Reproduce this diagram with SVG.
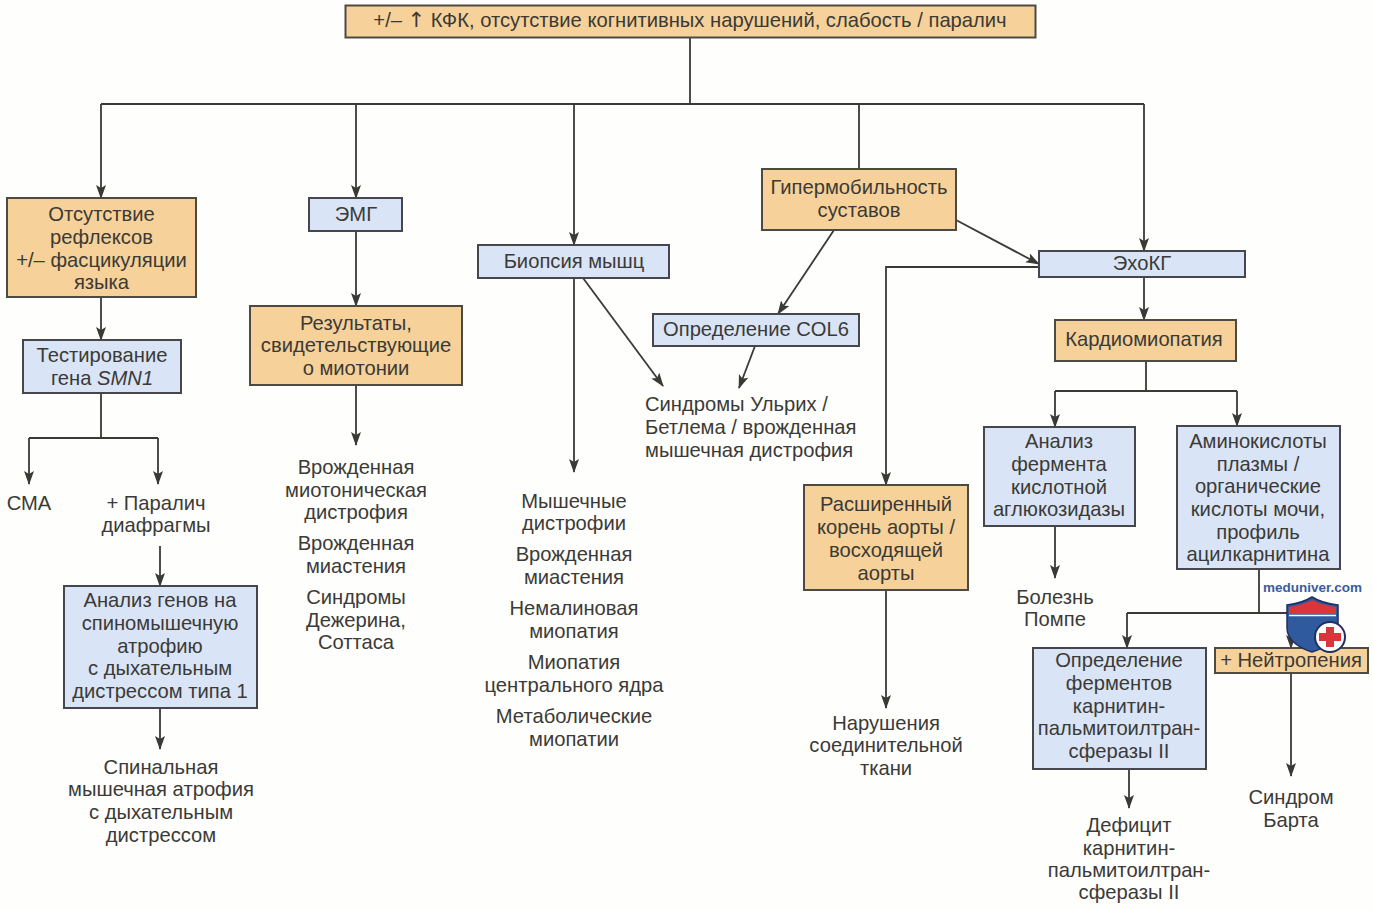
<svg xmlns="http://www.w3.org/2000/svg" width="1373" height="910" viewBox="0 0 1373 910">
<style>
text{font-family:"Liberation Sans",Arial,sans-serif;font-size:20.2px;fill:#3b3a36;text-anchor:middle}
.o{fill:#f6d199;stroke:#4d4a42;stroke-width:2}
.b{fill:#d9e4f6;stroke:#45474c;stroke-width:2}
.c{fill:none;stroke:#3a3935;stroke-width:1.8}
.a{marker-end:url(#ah)}
.l{text-anchor:start}
</style>
<defs>
<marker id="ah" viewBox="0 0 14 10" refX="13" refY="5" markerWidth="14" markerHeight="10" markerUnits="userSpaceOnUse" orient="auto">
<path d="M0 0L14 5L0 10L3 5Z" fill="#3a3935"/>
</marker>
</defs>
<rect width="1373" height="910" fill="#fefefd"/>
<g id="connectors">
<path class="c" d="M690 37V104M101 104H1144M859 104V169"/>
<path class="c a" d="M101 104V198"/>
<path class="c a" d="M356 104V198"/>
<path class="c a" d="M574 104V245"/>
<path class="c a" d="M1144 104V251"/>
<path class="c a" d="M956 220L1039 264"/>
<path class="c a" d="M834 230L778 314"/>
<path class="c a" d="M1039 267H886V485"/>
<path class="c a" d="M1144 277V320"/>
<path class="c" d="M1146 361V391M1055 391H1237"/>
<path class="c a" d="M1055 391V427"/>
<path class="c a" d="M1237 391V426"/>
<path class="c a" d="M1055 526V578"/>
<path class="c" d="M1259 569V613M1127 613H1291"/>
<path class="c a" d="M1127 613V648"/>
<path class="c a" d="M1291 613V648"/>
<path class="c a" d="M1291 673V776"/>
<path class="c a" d="M1129 769V808"/>
<path class="c a" d="M886 590V708"/>
<path class="c a" d="M574 278V472"/>
<path class="c a" d="M583 278L663 386"/>
<path class="c a" d="M755 346L739 388"/>
<path class="c a" d="M101 297V340"/>
<path class="c" d="M101 393V438M29 438H158"/>
<path class="c a" d="M29 438V484"/>
<path class="c a" d="M158 438V484"/>
<path class="c a" d="M160 546V586"/>
<path class="c a" d="M160 708V749"/>
<path class="c a" d="M356 231V306"/>
<path class="c a" d="M356 385V445"/>
</g>
<g id="n-top"><rect class="o" x="345.500" y="5.500" width="690" height="32"/><text x="690" y="27">+/– <tspan style="font-family:'DejaVu Sans',sans-serif;font-size:21px">↑</tspan> КФК, отсутствие когнитивных нарушений, слабость / паралич</text></g>
<g id="n-reflexes"><rect class="o" x="7" y="198" width="189" height="99"/><text x="101.500" y="221">Отсутствие</text><text x="101.500" y="244">рефлексов</text><text x="101.500" y="267">+/– фасцикуляции</text><text x="101.500" y="289">языка</text></g>
<g id="n-emg"><rect class="b" x="309" y="198" width="93" height="33"/><text x="356" y="221">ЭМГ</text></g>
<g id="n-biopsy"><rect class="b" x="478" y="245" width="191" height="33"/><text x="574" y="268">Биопсия мышц</text></g>
<g id="n-hyper"><rect class="o" x="762" y="169" width="194" height="61"/><text x="859" y="194">Гипермобильность</text><text x="859" y="217">суставов</text></g>
<g id="n-echo"><rect class="b" x="1039" y="251" width="206" height="26"/><text x="1142" y="270">ЭхоКГ</text></g>
<g id="n-cardio"><rect class="o" x="1055" y="320" width="181" height="41"/><text x="1144" y="346">Кардиомиопатия</text></g>
<g id="n-smn1"><rect class="b" x="23" y="340" width="158" height="53"/><text x="102" y="362">Тестирование</text><text x="102" y="385">гена <tspan font-style="italic">SMN1</tspan></text></g>
<g id="n-myotonia"><rect class="o" x="250" y="306" width="212" height="79"/><text x="356" y="330">Результаты,</text><text x="356" y="352">свидетельствующие</text><text x="356" y="375">о миотонии</text></g>
<g id="n-col6"><rect class="b" x="653" y="314" width="206" height="32"/><text x="756" y="336">Определение COL6</text></g>
<g id="n-enzyme"><rect class="b" x="984" y="427" width="151" height="99"/><text x="1059" y="448">Анализ</text><text x="1059" y="471">фермента</text><text x="1059" y="494">кислотной</text><text x="1059" y="516">аглюкозидазы</text></g>
<g id="n-amino"><rect class="b" x="1177" y="426" width="163" height="143"/><text x="1258" y="448">Аминокислоты</text><text x="1258" y="471">плазмы /</text><text x="1258" y="493">органические</text><text x="1258" y="516">кислоты мочи,</text><text x="1258" y="539">профиль</text><text x="1258" y="561">ацилкарнитина</text></g>
<g id="n-aorta"><rect class="o" x="804" y="485" width="164" height="105"/><text x="886" y="511">Расширенный</text><text x="886" y="534">корень аорты /</text><text x="886" y="557">восходящей</text><text x="886" y="580">аорты</text></g>
<g id="n-sma-genes"><rect class="b" x="64" y="586" width="193" height="122"/><text x="160" y="607">Анализ генов на</text><text x="160" y="630">спиномышечную</text><text x="160" y="653">атрофию</text><text x="160" y="675">с дыхательным</text><text x="160" y="698">дистрессом типа 1</text></g>
<g id="n-cpt"><rect class="b" x="1033" y="648" width="173" height="121"/><text x="1119" y="667">Определение</text><text x="1119" y="690">ферментов</text><text x="1119" y="713">карнитин-</text><text x="1119" y="735">пальмитоилтран-</text><text x="1119" y="758">сферазы II</text></g>
<g id="n-neutro"><rect class="o" x="1215" y="648" width="153" height="25"/><text x="1291" y="667">+ Нейтропения</text></g>
<g id="t-sma"><text x="29" y="510">СМА</text></g>
<g id="t-diaphragm"><text x="156" y="510">+ Паралич</text><text x="156" y="532">диафрагмы</text></g>
<g id="t-spinal"><text x="161" y="774">Спинальная</text><text x="161" y="796">мышечная атрофия</text><text x="161" y="819">с дыхательным</text><text x="161" y="842">дистрессом</text></g>
<g id="t-myotonic"><text x="356" y="474">Врожденная</text><text x="356" y="497">миотоническая</text><text x="356" y="519">дистрофия</text><text x="356" y="550">Врожденная</text><text x="356" y="573">миастения</text><text x="356" y="604">Синдромы</text><text x="356" y="627">Дежерина,</text><text x="356" y="649">Соттаса</text></g>
<g id="t-muscle"><text x="574" y="508">Мышечные</text><text x="574" y="530">дистрофии</text><text x="574" y="561">Врожденная</text><text x="574" y="584">миастения</text><text x="574" y="615">Немалиновая</text><text x="574" y="638">миопатия</text><text x="574" y="669">Миопатия</text><text x="574" y="692">центрального ядра</text><text x="574" y="723">Метаболические</text><text x="574" y="746">миопатии</text></g>
<g id="t-ullrich"><text class="l" x="645" y="411">Синдромы Ульрих /</text><text class="l" x="645" y="434">Бетлема / врожденная</text><text class="l" x="645" y="457">мышечная дистрофия</text></g>
<g id="t-pompe"><text x="1055" y="604">Болезнь</text><text x="1055" y="626">Помпе</text></g>
<g id="t-connective"><text x="886" y="730">Нарушения</text><text x="886" y="752">соединительной</text><text x="886" y="775">ткани</text></g>
<g id="t-barth"><text x="1291" y="804">Синдром</text><text x="1291" y="827">Барта</text></g>
<g id="t-cpt"><text x="1129" y="832">Дефицит</text><text x="1129" y="855">карнитин-</text><text x="1129" y="877">пальмитоилтран-</text><text x="1129" y="899">сферазы II</text></g>
<g id="site-badge">
<text x="1312.500" y="592" style="font-size:13.500px;font-weight:bold;fill:#3a5c9e">meduniver.com</text>
<path d="M1312 597C1320 602 1329 604 1338 605V628C1338 640 1325 648 1312 652C1299 648 1287 640 1287 628V605C1296 604 1304 602 1312 597Z" fill="#2f5a9e" stroke="#1f2f5f" stroke-width="1.500"/>
<path d="M1312 600C1320 604 1329 606 1336 607V614H1289V607C1296 606 1304 604 1312 600Z" fill="#d9353a"/>
<path d="M1289 615.500H1336" stroke="#fff" stroke-width="1.500"/>
<circle cx="1330" cy="637" r="15" fill="#fff" stroke="#1f2f5f" stroke-width="2"/>
<path d="M1326 627H1334V633H1341V641H1334V647H1326V641H1319V633H1326Z" fill="#d9353a"/>
</g>
</svg>
